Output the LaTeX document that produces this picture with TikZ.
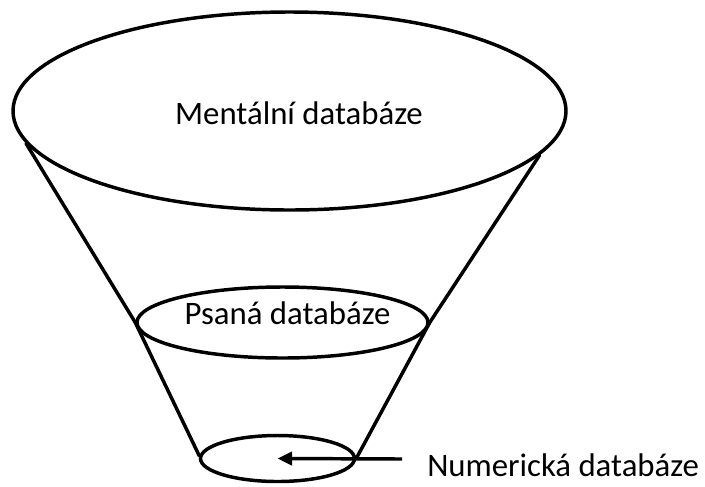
\documentclass[tikz,border=0pt]{standalone}
\usepackage{fontspec}
\setmainfont{Carlito}
\usetikzlibrary{shapes.geometric,arrows.meta}
\begin{document}
\begin{tikzpicture}[x=0.75pt,y=-0.75pt,
  level/.style={draw, ellipse, line width=2.6pt, inner sep=0pt},
  side/.style={line width=2.6pt, line join=round, line cap=round},
  caption/.style={inner sep=0pt, font=\fontsize{24.6}{29}\selectfont},
  pointer/.style={line width=2.6pt, -{Triangle[length=11pt,width=10pt]}}]
\useasboundingbox (0,0) rectangle (705,486);

% the three levels of the funnel
\node[level, minimum width=553*0.75pt, minimum height=198*0.75pt] (mental) at (289.5,111) {};
\node[level, minimum width=291*0.75pt, minimum height=71*0.75pt]  (written) at (282.5,322.5) {};
\node[level, minimum width=154*0.75pt, minimum height=46*0.75pt]  (numeric) at (277.5,458.5) {};

% sides of the funnel, bent at the middle level
\draw[side] (mental.187.5) -- (written.west) -- (numeric.178);
\draw[side] (mental.350.8) -- (written.east) -- (numeric.east);

% captions
\node[caption, anchor=base] (tmental) at (299,124) {Mentální databáze};
\node[caption, anchor=base] (twritten) at (287.5,324) {Psaná databáze};
\node[caption, anchor=base west] (tnumeric) at (427,476) {Numerická databáze};

% pointer from the caption into the smallest level
\coordinate (tail) at (402,459);
\draw[pointer] (tail) -- (numeric.center);
\end{tikzpicture}
\end{document}
